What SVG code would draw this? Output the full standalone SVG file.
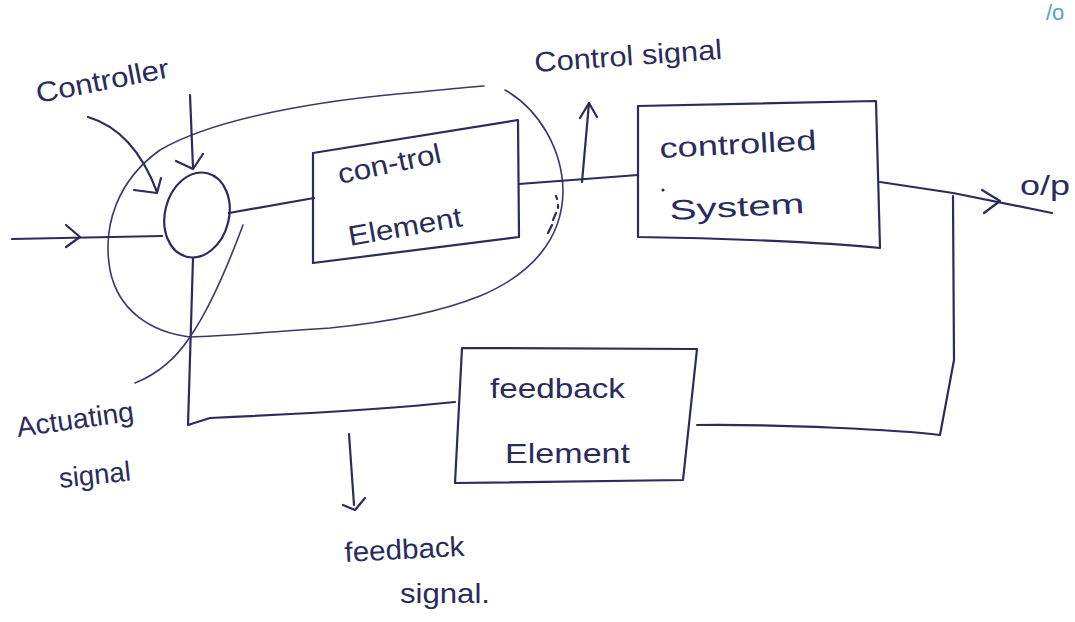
<svg xmlns="http://www.w3.org/2000/svg" width="1075" height="622" viewBox="0 0 1075 622">
  <style>
    .ink { fill: none; stroke: #2b2b5c; stroke-width: 2.2; stroke-linecap: round; stroke-linejoin: round; }
    .thin { fill: none; stroke: #3a3a66; stroke-width: 1.6; stroke-linecap: round; stroke-linejoin: round; }
    .lbl { font-family: "Liberation Sans", "DejaVu Sans", sans-serif; fill: #2b2b5c; font-size: 28px; }
  </style>
  <rect width="1075" height="622" fill="#ffffff"/>

  <!-- small note in the top right corner -->
  <text x="1046" y="20" class="lbl" style="fill:#4fa8c8;font-size:22px">/o</text>

  <!-- controller enclosure (loop round summing point and control element) -->
  <g id="controller-loop">
    <path class="thin" d="M 190 337 C 150 332 118 310 110 270 C 102 225 118 180 160 150 C 215 118 320 100 420 92 C 450 89 470 87 484 86"/>
    <path class="thin" d="M 505 90 C 540 110 562 150 563 190 C 563 240 530 275 480 296 C 440 312 390 322 330 328 C 270 332 225 336 190 337"/>
    <!-- dotted break where the loop crosses the signal line -->
    <path class="ink" d="M 556 196 L 557 199 M 558 205 L 558 208 M 556 213 L 553 220 M 552 225 L 548 233"/>
  </g>

  <!-- summing point -->
  <g id="summing-point">
    <ellipse class="ink" cx="197" cy="215" rx="32" ry="43" transform="rotate(14 197 215)"/>
  </g>

  <!-- control element -->
  <g id="control-element">
    <path class="ink" d="M 313 153 L 518 120 L 519 237 L 313 263 Z"/>
    <text class="lbl" x="340" y="184" textLength="105" lengthAdjust="spacingAndGlyphs" transform="rotate(-12 340 184)">con-trol</text>
    <text class="lbl" x="350" y="246" textLength="115" lengthAdjust="spacingAndGlyphs" transform="rotate(-10 350 246)">Element</text>
  </g>

  <!-- controlled system -->
  <g id="controlled-system">
    <path class="ink" d="M 638 106 L 876 101 L 880 248 C 820 242 720 238 638 237 Z"/>
    <text class="lbl" x="660" y="158" textLength="157" lengthAdjust="spacingAndGlyphs" transform="rotate(-3 660 158)">controlled</text>
    <circle cx="663" cy="190" r="1.6" fill="#2b2b5c"/>
    <text class="lbl" x="670" y="220" textLength="135" lengthAdjust="spacingAndGlyphs" transform="rotate(-3 670 220)">System</text>
  </g>

  <!-- feedback element -->
  <g id="feedback-element">
    <path class="ink" d="M 462 348 L 697 349 L 683 480 L 455 483 Z"/>
    <text class="lbl" x="490" y="398" textLength="135" lengthAdjust="spacingAndGlyphs">feedback</text>
    <text class="lbl" x="505" y="463" textLength="125" lengthAdjust="spacingAndGlyphs">Element</text>
  </g>

  <!-- connectors -->
  <g id="connectors">
    <!-- input into summing point -->
    <path class="ink" d="M 12 239 L 162 236"/>
    <path class="ink" d="M 66 225 L 80 237 L 66 247"/>
    <!-- summing point to control element -->
    <path class="ink" d="M 229 213 L 314 198"/>
    <!-- control element to controlled system -->
    <path class="ink" d="M 519 184 L 638 175"/>
    <!-- output -->
    <path class="ink" d="M 880 182 L 953 193 L 1052 213"/>
    <path class="ink" d="M 982 190 L 1000 201 L 984 213"/>
    <!-- feedback path: take-off, feedback element, back to summing point -->
    <path class="ink" d="M 953 196 L 954 360 L 940 435 C 900 430 780 424 697 425"/>
    <path class="ink" d="M 455 402 C 380 410 300 414 210 418 L 188 425 L 193 258"/>
  </g>

  <!-- label pointers -->
  <g id="pointers">
    <!-- controller pointer -->
    <path class="ink" d="M 88 117 C 125 128 145 160 157 192"/>
    <path class="ink" d="M 134 190 L 157 193 L 161 178"/>
    <!-- arrow from above into the summing point -->
    <path class="ink" d="M 190 95 L 193 168"/>
    <path class="ink" d="M 176 161 L 193 169 L 203 154"/>
    <!-- control signal arrow -->
    <path class="ink" d="M 582 182 L 589 103"/>
    <path class="ink" d="M 580 118 L 589 103 L 597 117"/>
    <!-- actuating signal leader -->
    <path class="thin" d="M 243 225 C 230 260 212 305 190 337 C 175 360 155 375 135 383"/>
    <!-- feedback signal arrow -->
    <path class="ink" d="M 349 434 L 354 505"/>
    <path class="ink" d="M 343 505 L 355 510 L 365 498"/>
  </g>

  <!-- free labels -->
  <g id="labels">
    <text class="lbl" x="38" y="103" textLength="135" lengthAdjust="spacingAndGlyphs" transform="rotate(-11 38 103)">Controller</text>
    <text class="lbl" x="535" y="72" textLength="188" lengthAdjust="spacingAndGlyphs" transform="rotate(-4 535 72)">Control signal</text>
    <text class="lbl" x="1020" y="195" textLength="50" lengthAdjust="spacingAndGlyphs">o/p</text>
    <text class="lbl" x="18" y="437" textLength="118" lengthAdjust="spacingAndGlyphs" transform="rotate(-8 18 437)">Actuating</text>
    <text class="lbl" x="60" y="488" textLength="72" lengthAdjust="spacingAndGlyphs" transform="rotate(-6 60 488)">signal</text>
    <text class="lbl" x="345" y="562" textLength="120" lengthAdjust="spacingAndGlyphs" transform="rotate(-3 345 562)">feedback</text>
    <text class="lbl" x="400" y="603" textLength="90" lengthAdjust="spacingAndGlyphs">signal.</text>
  </g>
</svg>
